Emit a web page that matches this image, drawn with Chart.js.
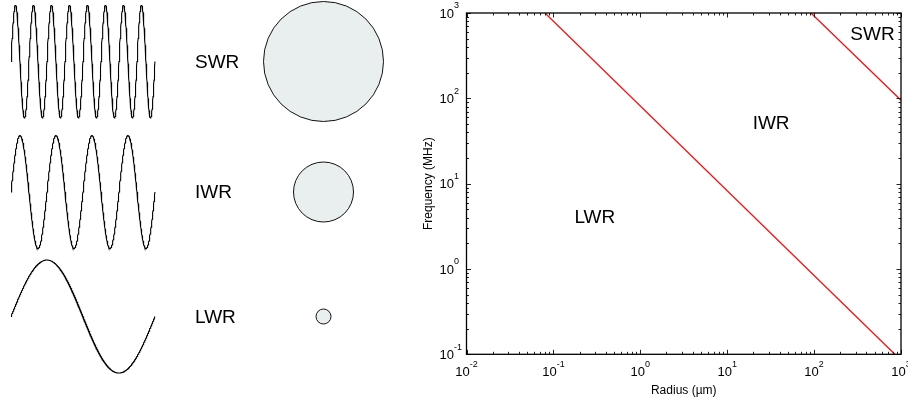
<!DOCTYPE html>
<html lang="en">
<head>
    <meta charset="UTF-8">
    <title>Scattering regimes</title>
    <script src="https://cdn.jsdelivr.net/npm/chart.js"></script>
    <style>
        body {
            margin: 0;
            background: #fff;
        }
        #wrap {
            position: relative;
            width: 908px;
            height: 405px;
        }
        canvas {
            position: absolute;
            top: 0;
        }
        #waves { left: 0; }
        #regimes { left: 400px; }
    </style>
</head>
<body>
<div id="wrap">
    <canvas id="waves" width="400" height="405"></canvas>
    <canvas id="regimes" width="508" height="405"></canvas>
</div>

<script>
    // left panel: one row per regime
    const regimeNames = ['SWR', 'IWR', 'LWR'];
    const waveCycles = [8, 4, 1];
    const particleRadii = [60, 30, 7.5];

    // right panel: boundary lines (radius in um, frequency in MHz)
    const lwrIwrRadius = [0.08, 850];
    const lwrIwrFreq = [1000, 0.1];
    const iwrSwrRadius = [92, 1000];
    const iwrSwrFreq = [1000, 95];

    const regionNames = ['SWR', 'IWR', 'LWR'];
    const regionRadius = [470, 32, 0.3];
    const regionFreq = [550, 50, 3.95];

    const xTickExps = [-2, -1, 0, 1, 2, 3];
    const yTickExps = [-1, 0, 1, 2, 3];

    const FONT = '"Liberation Sans", Arial, sans-serif';

    // ---- left panel layout (units = px of the panel) ----
    const rowY = [61.5, 192, 316.5];
    const waveX0 = 11, waveX1 = 155, waveAmp = 56.5;
    const labelX = 195, circleX = 323.5;

    function wavePoints(cycles, yc) {
        const pts = [];
        const n = 600;
        for (let i = 0; i <= n; i++) {
            const t = i / n;
            pts.push({
                x: waveX0 + (waveX1 - waveX0) * t,
                y: yc - waveAmp * Math.sin(2 * Math.PI * cycles * t)
            });
        }
        return pts;
    }

    const waveSets = waveCycles.map((c, i) => ({
        type: 'line',
        data: wavePoints(c, rowY[i]),
        borderColor: '#000',
        borderWidth: 1.1,
        pointRadius: 0,
        tension: 0,
        clip: false
    }));

    const circleSets = particleRadii.map((r, i) => ({
        type: 'bubble',
        data: [{ x: circleX, y: rowY[i], r: r }],
        backgroundColor: '#e9eeee',
        borderColor: '#111',
        borderWidth: 1,
        clip: false
    }));

    const rowLabels = {
        id: 'rowLabels',
        afterDatasetsDraw(chart) {
            const ctx = chart.ctx;
            const xs = chart.scales.x, ys = chart.scales.y;
            ctx.save();
            ctx.fillStyle = '#000';
            ctx.font = '19px ' + FONT;
            ctx.textBaseline = 'middle';
            ctx.textAlign = 'left';
            regimeNames.forEach((name, i) => {
                ctx.fillText(name, xs.getPixelForValue(labelX), ys.getPixelForValue(rowY[i] + 1));
            });
            ctx.restore();
        }
    };

    new Chart(document.getElementById('waves'), {
        type: 'scatter',
        data: { datasets: [...waveSets, ...circleSets] },
        options: {
            responsive: false,
            animation: false,
            layout: { padding: 0, autoPadding: false },
            plugins: { legend: { display: false }, tooltip: { enabled: false } },
            scales: {
                x: { type: 'linear', min: 0, max: 400, display: false },
                y: { type: 'linear', min: 0, max: 405, reverse: true, display: false }
            }
        },
        plugins: [rowLabels]
    });

    // ---- right panel ----
    function pairs(xs, ys) {
        return xs.map((x, i) => ({ x: x, y: ys[i] }));
    }

    // frame, inward ticks on all four sides, 10^n labels, axis titles, region names
    const logFrame = {
        id: 'logFrame',
        afterDatasetsDraw(chart) {
            const ctx = chart.ctx;
            const a = chart.chartArea;
            const xs = chart.scales.x, ys = chart.scales.y;
            ctx.save();

            ctx.strokeStyle = '#222';
            ctx.lineWidth = 1;
            ctx.beginPath();
            for (let e = xTickExps[0]; e < xTickExps[xTickExps.length - 1] + 1; e++) {
                for (let m = 1; m <= 9; m++) {
                    const v = m * Math.pow(10, e);
                    if (v > 1000.0001) continue;
                    const px = Math.round(xs.getPixelForValue(v)) + 0.5;
                    const len = m === 1 ? 4.5 : 2.5;
                    ctx.moveTo(px, a.bottom); ctx.lineTo(px, a.bottom - len);
                    ctx.moveTo(px, a.top); ctx.lineTo(px, a.top + len);
                }
            }
            for (let e = yTickExps[0]; e < yTickExps[yTickExps.length - 1] + 1; e++) {
                for (let m = 1; m <= 9; m++) {
                    const v = m * Math.pow(10, e);
                    if (v > 1000.0001) continue;
                    const py = Math.round(ys.getPixelForValue(v)) + 0.5;
                    const len = m === 1 ? 4.5 : 2.5;
                    ctx.moveTo(a.left, py); ctx.lineTo(a.left + len, py);
                    ctx.moveTo(a.right, py); ctx.lineTo(a.right - len, py);
                }
            }
            ctx.stroke();

            ctx.strokeStyle = '#000';
            ctx.lineWidth = 1.3;
            ctx.strokeRect(a.left, a.top, a.right - a.left, a.bottom - a.top);

            const baseFont = '13px ' + FONT;
            const expFont = '9px ' + FONT;
            ctx.fillStyle = '#000';
            ctx.textBaseline = 'middle';

            xTickExps.forEach(e => {
                const px = xs.getPixelForValue(Math.pow(10, e));
                ctx.font = baseFont;
                const wb = ctx.measureText('10').width;
                ctx.font = expFont;
                const we = ctx.measureText(String(e)).width;
                const x0 = px - (wb + we) / 2;
                ctx.textAlign = 'left';
                ctx.font = baseFont;
                ctx.fillText('10', x0, a.bottom + 18.5);
                ctx.font = expFont;
                ctx.fillText(String(e), x0 + wb, a.bottom + 10);
            });

            yTickExps.forEach(e => {
                const py = ys.getPixelForValue(Math.pow(10, e));
                const xr = a.left - 12.5;
                ctx.textAlign = 'right';
                ctx.font = baseFont;
                ctx.fillText('10', xr, py + 1);
                ctx.textAlign = 'left';
                ctx.font = expFont;
                ctx.fillText(String(e), xr, py - 7);
            });

            ctx.font = '12px ' + FONT;
            ctx.textAlign = 'center';
            ctx.fillText('Radius (\u00b5m)', (a.left + a.right) / 2, a.bottom + 36.5);
            ctx.save();
            ctx.translate(a.left - 38, (a.top + a.bottom) / 2);
            ctx.rotate(-Math.PI / 2);
            ctx.fillText('Frequency (MHz)', 0, 0);
            ctx.restore();

            ctx.font = '19px ' + FONT;
            regionNames.forEach((name, i) => {
                ctx.fillText(name, xs.getPixelForValue(regionRadius[i]), ys.getPixelForValue(regionFreq[i]));
            });

            ctx.restore();
        }
    };

    new Chart(document.getElementById('regimes'), {
        type: 'scatter',
        data: {
            datasets: [
                {
                    label: 'LWR / IWR',
                    data: pairs(lwrIwrRadius, lwrIwrFreq),
                    showLine: true,
                    borderColor: 'rgb(238, 20, 20)',
                    borderWidth: 1.3,
                    pointRadius: 0
                },
                {
                    label: 'IWR / SWR',
                    data: pairs(iwrSwrRadius, iwrSwrFreq),
                    showLine: true,
                    borderColor: 'rgb(238, 20, 20)',
                    borderWidth: 1.3,
                    pointRadius: 0
                }
            ]
        },
        options: {
            responsive: false,
            animation: false,
            layout: { padding: { left: 66.5, right: 7, top: 13, bottom: 50.7 }, autoPadding: false },
            plugins: { legend: { display: false }, tooltip: { enabled: false } },
            scales: {
                x: { type: 'logarithmic', min: 0.01, max: 1000, display: false },
                y: { type: 'logarithmic', min: 0.1, max: 1000, display: false }
            }
        },
        plugins: [logFrame]
    });
</script>
</body>
</html>
